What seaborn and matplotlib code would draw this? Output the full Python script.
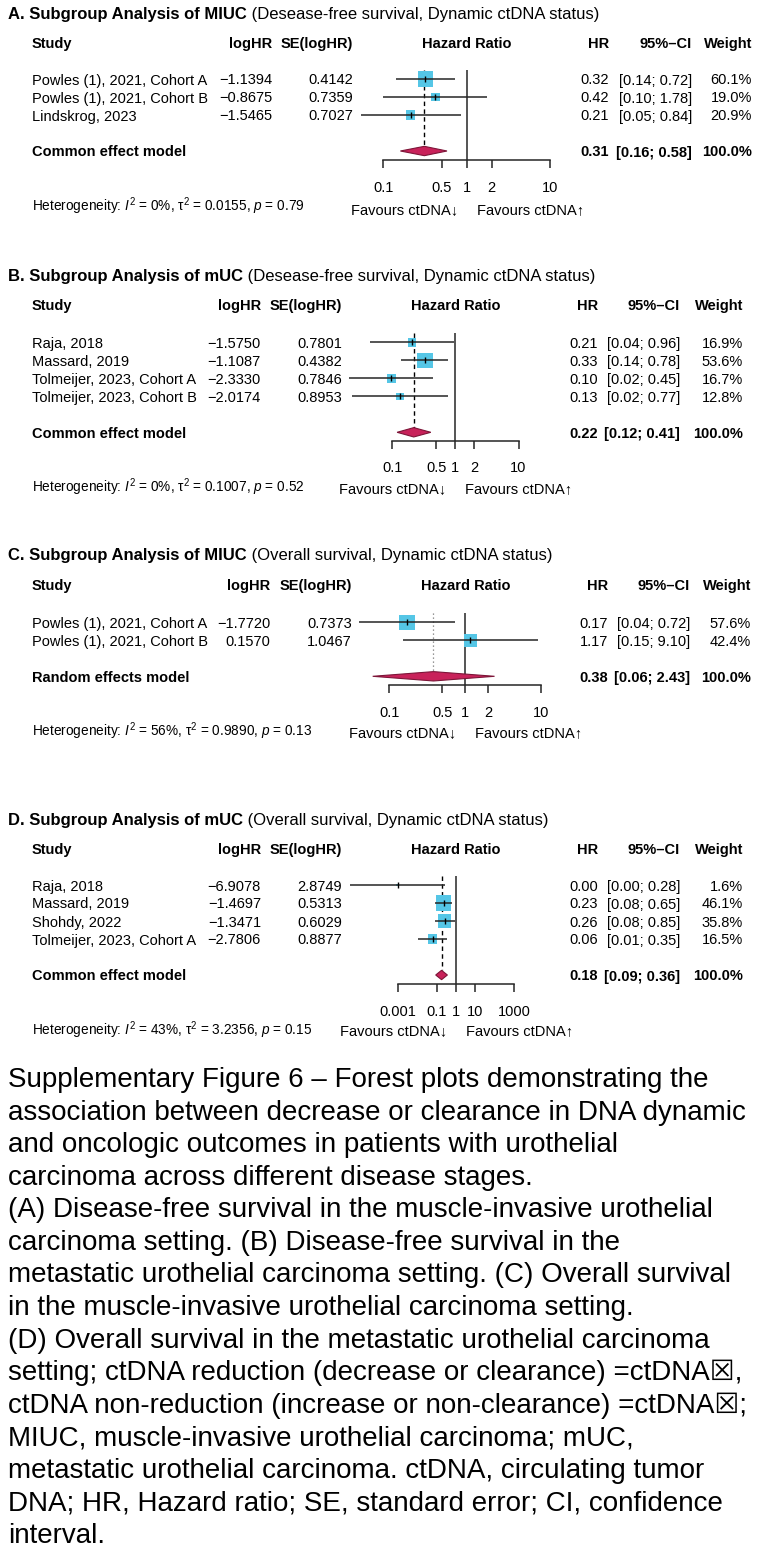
import numpy as np
import pandas as pd
import matplotlib
matplotlib.use("Agg")
import matplotlib.pyplot as plt
import seaborn as sns
from matplotlib.ticker import FixedLocator, NullLocator

# ---------------- data ----------------
a_title = ("A. Subgroup Analysis of MIUC", " (Desease-free survival, Dynamic ctDNA status)")
a_study = ["Powles (1), 2021, Cohort A", "Powles (1), 2021, Cohort B", "Lindskrog, 2023"]
a_loghr = [-1.1394, -0.8675, -1.5465]
a_se = [0.4142, 0.7359, 0.7027]
a_hr = ["0.32", "0.42", "0.21"]
a_ci = ["[0.14; 0.72]", "[0.10; 1.78]", "[0.05; 0.84]"]
a_weight = [60.1, 19.0, 20.9]
a_model = ["Common effect model", 0.31, 0.16, 0.58]
a_het = ["0%", "0.0155", "0.79"]

b_title = ("B. Subgroup Analysis of mUC", " (Desease-free survival, Dynamic ctDNA status)")
b_study = ["Raja, 2018", "Massard, 2019", "Tolmeijer, 2023, Cohort A", "Tolmeijer, 2023, Cohort B"]
b_loghr = [-1.5750, -1.1087, -2.3330, -2.0174]
b_se = [0.7801, 0.4382, 0.7846, 0.8953]
b_hr = ["0.21", "0.33", "0.10", "0.13"]
b_ci = ["[0.04; 0.96]", "[0.14; 0.78]", "[0.02; 0.45]", "[0.02; 0.77]"]
b_weight = [16.9, 53.6, 16.7, 12.8]
b_model = ["Common effect model", 0.22, 0.12, 0.41]
b_het = ["0%", "0.1007", "0.52"]

c_title = ("C. Subgroup Analysis of MIUC", " (Overall survival, Dynamic ctDNA status)")
c_study = ["Powles (1), 2021, Cohort A", "Powles (1), 2021, Cohort B"]
c_loghr = [-1.7720, 0.1570]
c_se = [0.7373, 1.0467]
c_hr = ["0.17", "1.17"]
c_ci = ["[0.04; 0.72]", "[0.15; 9.10]"]
c_weight = [57.6, 42.4]
c_model = ["Random effects model", 0.38, 0.06, 2.43]
c_het = ["56%", "0.9890", "0.13"]

d_title = ("D. Subgroup Analysis of mUC", " (Overall survival, Dynamic ctDNA status)")
d_study = ["Raja, 2018", "Massard, 2019", "Shohdy, 2022", "Tolmeijer, 2023, Cohort A"]
d_loghr = [-6.9078, -1.4697, -1.3471, -2.7806]
d_se = [2.8749, 0.5313, 0.6029, 0.8877]
d_hr = ["0.00", "0.23", "0.26", "0.06"]
d_ci = ["[0.00; 0.28]", "[0.08; 0.65]", "[0.08; 0.85]", "[0.01; 0.35]"]
d_weight = [1.6, 46.1, 35.8, 16.5]
d_model = ["Common effect model", 0.18, 0.09, 0.36]
d_het = ["43%", "3.2356", "0.15"]

ticks_std = [0.1, 0.5, 1, 2, 10]
ticklabels_std = ["0.1", "0.5", "1", "2", "10"]
ticks_wide = [0.001, 0.1, 1, 10, 1000]
ticklabels_wide = ["0.001", "0.1", "1", "10", "1000"]

caption_lines = [
    "Supplementary Figure 6 \u2013 Forest plots demonstrating the",
    "association between decrease or clearance in DNA dynamic",
    "and oncologic outcomes in patients with urothelial",
    "carcinoma across different disease stages.",
    "(A) Disease-free survival in the muscle-invasive urothelial",
    "carcinoma setting. (B) Disease-free survival in the",
    "metastatic urothelial carcinoma setting. (C) Overall survival",
    "in the muscle-invasive urothelial carcinoma setting.",
    "(D) Overall survival in the metastatic urothelial carcinoma",
    "setting; ctDNA reduction (decrease or clearance) =ctDNA\u2612,",
    "ctDNA non-reduction (increase or non-clearance) =ctDNA\u2612;",
    "MIUC, muscle-invasive urothelial carcinoma; mUC,",
    "metastatic urothelial carcinoma. ctDNA, circulating tumor",
    "DNA; HR, Hazard ratio; SE, standard error; CI, confidence",
    "interval.",
]

# ---------------- style ----------------
sns.set_style("white")
FAM = ["Liberation Sans", "DejaVu Sans"]
plt.rcParams["font.family"] = FAM
plt.rcParams["text.color"] = "black"
plt.rcParams["mathtext.fontset"] = "custom"
plt.rcParams["mathtext.rm"] = "Liberation Sans"
plt.rcParams["mathtext.it"] = "Liberation Sans:italic"
plt.rcParams["mathtext.bf"] = "Liberation Sans:bold"

SQ = "#55C6E6"
DIA = "#C8225A"
DIA_EDGE = "#7d1538"
LINE = "#262626"
FS = 10.5

W, H = 760, 1565
fig = plt.figure(figsize=(W / 100, H / 100), dpi=100)
renderer = fig.canvas.get_renderer()


def fx(px):
    return px / W


def fy(py):
    return 1 - py / H


def ftext(px, py, s, **kw):
    kw.setdefault("va", "center")
    kw.setdefault("fontsize", FS)
    kw.setdefault("color", "black")
    return fig.text(fx(px), fy(py), s, **kw)


def fmt_num(v):
    return ("\u2212" if v < 0 else "") + f"{abs(v):.4f}"


SP = 18.0  # row spacing in pixels


def panel(title, study, loghr, se, hr, ci, weight, model, het, lay):
    n = len(study)
    # title
    t = ftext(8, lay["title_y"], title[0], fontsize=12, fontweight="bold")
    bb = t.get_window_extent(renderer=renderer)
    ftext(bb.x1, lay["title_y"], title[1], fontsize=12)
    # headers
    hy = lay["header_y"]
    ftext(32, hy, "Study", fontweight="bold")
    ftext(lay["lx"], hy, "logHR", fontweight="bold", ha="right")
    ftext(lay["sx"], hy, "SE(logHR)", fontweight="bold", ha="right")
    ftext(lay["null"], hy, "Hazard Ratio", fontweight="bold", ha="center")
    ftext(lay["hx"], hy, "HR", fontweight="bold", ha="right")
    ftext(lay["cx"], hy, "95%\u2013CI", fontweight="bold", ha="right")
    ftext(lay["wx"], hy, "Weight", fontweight="bold", ha="right")
    # rows
    off = 1.5
    for i in range(n):
        y = lay["row0"] + i * SP + off
        ftext(32, y, study[i])
        ftext(lay["lx"], y, fmt_num(loghr[i]), ha="right")
        ftext(lay["sx"], y, f"{se[i]:.4f}", ha="right")
        ftext(lay["hx"], y, hr[i], ha="right")
        ftext(lay["cx"], y, ci[i], ha="right")
        ftext(lay["wx"], y, f"{weight[i]:.1f}%", ha="right")
    my = lay["row0"] + (n + 1) * SP + off
    ftext(32, my, model[0], fontweight="bold")
    ftext(lay["hx"], my, f"{model[1]:.2f}", fontweight="bold", ha="right")
    ftext(lay["cx"], my, f"[{model[2]:.2f}; {model[3]:.2f}]", fontweight="bold", ha="right")
    ftext(lay["wx"], my, "100.0%", fontweight="bold", ha="right")
    # heterogeneity
    ftext(32, lay["het_y"],
          "Heterogeneity: $I^2$ = " + het[0] + ", $\\mathrm{\u03c4}^2$ = " + het[1] + ", $p$ = " + het[2],
          fontsize=9.8)
    # favours labels
    ftext(lay["null"] - 9, lay["fav_y"], "Favours ctDNA\u2193", ha="right")
    ftext(lay["null"] + 10, lay["fav_y"], "Favours ctDNA\u2191", ha="left")

    # ---- forest axes ----
    ticks = lay["ticks"]
    tmin, tmax = ticks[0], ticks[-1]
    left_px = lay["null"] + lay["dec"] * np.log10(tmin)
    right_px = lay["null"] + lay["dec"] * np.log10(tmax)
    top_px = lay["row0"] - 0.5 * SP
    bot_px = lay["axis_y"]
    ax = fig.add_axes([fx(left_px), fy(bot_px), (right_px - left_px) / W, (bot_px - top_px) / H])
    ax.set_facecolor("none")
    ybot = (bot_px - lay["row0"]) / SP
    ax.set_xscale("log")
    ax.set_xlim(tmin, tmax)
    ax.set_ylim(ybot, -0.5)

    lh = np.array(loghr)
    s = np.array(se)
    df = pd.DataFrame({"hr": np.exp(lh), "row": np.arange(n), "w": weight,
                       "lo": np.exp(lh - 1.96 * s), "hi": np.exp(lh + 1.96 * s)})
    side_pt = 15.5 * 0.72
    sns.scatterplot(data=df, x="hr", y="row", size="w", sizes=(0, side_pt ** 2),
                    size_norm=(0, max(weight)), marker="s", color=SQ, linewidth=0,
                    legend=False, ax=ax, clip_on=False, zorder=2)
    ax.hlines(df["row"], df["lo"], df["hi"], color=LINE, lw=1.1, clip_on=False, zorder=3)
    ax.scatter(df["hr"], df["row"], marker="|", s=16, color="black", linewidths=1.0,
               clip_on=False, zorder=4)
    # null line
    ax.vlines(1, -0.5, ybot, color=LINE, lw=1.1, clip_on=False, zorder=1)
    # pooled
    mrow = n + 1
    h = 0.26
    est, lo, hi = model[1], model[2], model[3]
    if model[0].startswith("Random"):
        ax.vlines(est, -0.5, mrow - h, color="#777777", lw=0.9, linestyles=(0, (1, 2.2)),
                  clip_on=False, zorder=1)
    else:
        ax.vlines(est, -0.5, mrow - h, color="black", lw=1.0, linestyles=(0, (3.2, 2.4)),
                  clip_on=False, zorder=1)
    ax.fill([lo, est, hi, est], [mrow, mrow - h, mrow, mrow + h], facecolor=DIA,
            edgecolor=DIA_EDGE, lw=0.8, clip_on=False, zorder=3)

    for sname in ["top", "left", "right"]:
        ax.spines[sname].set_visible(False)
    ax.spines["bottom"].set_bounds(tmin, tmax)
    ax.spines["bottom"].set_color(LINE)
    ax.spines["bottom"].set_linewidth(1.1)
    ax.xaxis.set_major_locator(FixedLocator(ticks))
    ax.xaxis.set_minor_locator(NullLocator())
    ax.set_xticklabels(lay["labels"])
    ax.tick_params(axis="x", bottom=True, direction="out", length=5.8, width=1.1,
                   color=LINE, pad=9, labelsize=FS, labelcolor="black")
    ax.set_yticks([])
    ax.set_xlabel("")
    ax.set_ylabel("")
    return ax


lay_a = dict(title_y=15, header_y=44, row0=79, axis_y=160, null=466.7, dec=83.3,
             ticks=ticks_std, labels=ticklabels_std, lx=272, sx=353, hx=609, cx=692, wx=752,
             het_y=206, fav_y=210)
lay_b = dict(title_y=276, header_y=306, row0=342.3, axis_y=440.7, null=455.3, dec=63.2,
             ticks=ticks_std, labels=ticklabels_std, lx=261, sx=342, hx=598, cx=680, wx=743,
             het_y=487, fav_y=489)
lay_c = dict(title_y=555, header_y=586, row0=622.3, axis_y=685.3, null=465.3, dec=75.8,
             ticks=ticks_std, labels=ticklabels_std, lx=270, sx=352, hx=608, cx=690, wx=751,
             het_y=731, fav_y=733)
lay_d = dict(title_y=820, header_y=850, row0=885, axis_y=984.3, null=456, dec=19.4,
             ticks=ticks_wide, labels=ticklabels_wide, lx=261, sx=342, hx=598, cx=680, wx=743,
             het_y=1030, fav_y=1031)

panel(a_title, a_study, a_loghr, a_se, a_hr, a_ci, a_weight, a_model, a_het, lay_a)
panel(b_title, b_study, b_loghr, b_se, b_hr, b_ci, b_weight, b_model, b_het, lay_b)
panel(c_title, c_study, c_loghr, c_se, c_hr, c_ci, c_weight, c_model, c_het, lay_c)
panel(d_title, d_study, d_loghr, d_se, d_hr, d_ci, d_weight, d_model, d_het, lay_d)

for i, line in enumerate(caption_lines):
    ftext(8, 1080 + i * 32.57, line, fontsize=20)

fig.savefig("out.png", dpi=100)
